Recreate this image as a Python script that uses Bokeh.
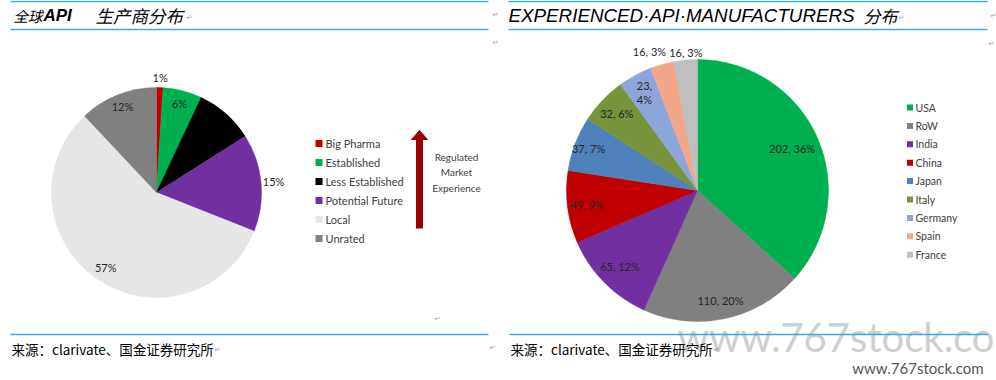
import math
from bokeh.plotting import figure
from bokeh.models import Range1d, ColumnDataSource
from bokeh.core.properties import value
from bokeh.embed import file_html
from bokeh.resources import INLINE

# ---------------- data ----------------
left_categories = ["Big Pharma", "Established", "Less Established", "Potential Future", "Local", "Unrated"]
left_values = [1, 6, 9, 15, 57, 12]
left_labels = ["1%", "6%", "", "15%", "57%", "12%"]

right_categories = ["USA", "RoW", "India", "China", "Japan", "Italy", "Germany", "Spain", "France"]
right_counts = [202, 110, 65, 49, 37, 32, 23, 16, 16]
right_pcts = [36, 20, 12, 9, 7, 6, 4, 3, 3]

left_title_parts = ["全球", "API", "生产商分布"]
right_title = "EXPERIENCED·API·MANUFACTURERS"
right_title_cn = "分布"
source_text = "来源：clarivate、国金证券研究所"
arrow_text = "Regulated\nMarket\nExperience"

# ---------------- styles ----------------
left_colors = ["#C00000", "#00B050", "#000000", "#7030A0", "#E6E6E6", "#808080"]
right_colors = ["#00B050", "#808080", "#7030A0", "#C00000", "#4F81BD", "#77933C", "#8EA5DB", "#F2A68A", "#BFBFBF"]
left_label_r = [1.1, 0.88, 0.0, 1.12, 0.86, 0.88]
left_label_dx = [0, 0, 0, 0, 0, 0]
right_label_r = [0.79, 0.86, 0.83, 0.85, 0.89, 0.85, 0.85, 1.1, 1.06]
right_label_dx = [0, 0, 0, 0, 0, 0, 0, -9, 1]

W, H = 996, 380
def Y(py):
    return H - py

p = figure(width=W, height=H, x_range=Range1d(0, W), y_range=Range1d(0, H),
           output_backend="svg", toolbar_location=None, min_border=0)
p.axis.visible = False
p.grid.visible = False
p.outline_line_color = None
p.background_fill_color = "white"

LBL_FONT = value("Lato")
CJK = value("Noto Sans CJK SC")
BLUE = "#3AAAE1"

# watermark (big, behind)
p.text(x=[994], y=[Y(336)], text=["www.767stock.co"], text_font=LBL_FONT,
       text_font_size="40px", text_color="#CFCFCF", text_align="right", text_baseline="middle")

# rules
p.segment(x0=[10, 10, 508, 508, 10, 509], y0=[Y(1), Y(29), Y(1), Y(29), Y(334), Y(334)],
          x1=[488, 488, 987, 987, 488, 987], y1=[Y(1), Y(29), Y(1), Y(29), Y(334), Y(334)],
          line_color=BLUE, line_width=1.5)

def pie(cx, cy, r, vals, colors, labels, lr, ldx, fsize):
    total = float(sum(vals))
    starts, ends, lx, ly = [], [], [], []
    cum = 0.0
    for v, f, d in zip(vals, lr, ldx):
        a0 = math.pi / 2 - 2 * math.pi * cum / total
        a1 = math.pi / 2 - 2 * math.pi * (cum + v) / total
        am = math.pi / 2 - 2 * math.pi * (cum + v / 2) / total
        starts.append(a0); ends.append(a1)
        lx.append(cx + f * r * math.cos(am) + d); ly.append(Y(cy) + f * r * math.sin(am))
        cum += v
    src = ColumnDataSource(dict(s=starts, e=ends, c=colors))
    p.wedge(x=cx, y=Y(cy), radius=r, start_angle="s", end_angle="e", direction="clock",
            fill_color="c", line_color="c", line_width=0.5, source=src)
    p.text(x=lx, y=ly, text=labels, text_font=LBL_FONT, text_font_size=fsize,
           text_color="#262626", text_align="center", text_baseline="middle", text_line_height=1.1)

pie(156, 192, 105, left_values, left_colors, left_labels, left_label_r, left_label_dx, "11px")
right_labels = [f"{c},\n{q}%" if cat == "Germany" else f"{c}, {q}%"
                for c, q, cat in zip(right_counts, right_pcts, right_categories)]
pie(697, 190, 131, right_counts, right_colors, right_labels, right_label_r, right_label_dx, "11px")

# left legend
ly = [Y(143 + 19 * i) for i in range(len(left_categories))]
p.scatter(x=[318.5] * len(ly), y=ly, marker="square", size=7, fill_color=left_colors, line_color=None)
p.text(x=[325] * len(ly), y=ly, text=left_categories, text_font=LBL_FONT, text_font_size="11px",
       text_color="#404040", text_align="left", text_baseline="middle")

# right legend
ry = [Y(107 + 18.4 * i) for i in range(len(right_categories))]
p.scatter(x=[909.5] * len(ry), y=ry, marker="square", size=6, fill_color=right_colors, line_color=None)
p.text(x=[915] * len(ry), y=ry, text=right_categories, text_font=LBL_FONT, text_font_size="10.5px",
       text_color="#404040", text_align="left", text_baseline="middle")

# arrow
AR = "#990000"
p.quad(left=[415.5], right=[422.5], bottom=[Y(228)], top=[Y(137)], fill_color=AR, line_color=None)
p.patch(x=[411, 427, 419], y=[Y(139), Y(139), Y(130)], fill_color=AR, line_color=AR)
p.text(x=[456], y=[Y(172)], text=[arrow_text], text_font=LBL_FONT, text_font_size="10px",
       text_color="#404040", text_align="center", text_baseline="middle", text_line_height=1.3)

# titles
p.text(x=[13], y=[Y(15)], text=[left_title_parts[0]], text_font=CJK, text_font_size="14.5px",
       text_font_style="italic", text_color="black", text_baseline="middle")
p.text(x=[43], y=[Y(15)], text=[left_title_parts[1]], text_font=value("Liberation Sans"), text_font_size="17px",
       text_font_style="bold italic", text_color="black", text_baseline="middle")
p.text(x=[95], y=[Y(15)], text=[left_title_parts[2]], text_font=CJK, text_font_size="17.5px",
       text_font_style="italic", text_color="black", text_baseline="middle")
p.text(x=[508], y=[Y(15)], text=[right_title], text_font=value("Liberation Sans"), text_font_size="18.8px",
       text_font_style="italic", text_color="black", text_baseline="middle")
p.text(x=[863], y=[Y(15)], text=[right_title_cn], text_font=CJK, text_font_size="17px",
       text_font_style="italic", text_color="black", text_baseline="middle")

# sources
p.text(x=[11, 510], y=[Y(348), Y(348)], text=[source_text, source_text], text_font=CJK,
       text_font_size="13.5px", text_color="black", text_baseline="middle")

# small watermark
p.text(x=[983], y=[Y(367)], text=["www.767stock.com"], text_font=LBL_FONT, text_font_size="15px",
       text_color="#555555", text_align="right", text_baseline="middle")

# paragraph marks
mx = [189, 495, 495, 901, 993, 991, 217, 492, 716, 437]
my = [17, 14, 42, 17, 15, 43, 349, 347, 349, 318]
p.text(x=mx, y=[Y(v) for v in my], text=["↵"] * len(mx), text_font=value("DejaVu Sans"),
       text_font_size="7px", text_color="#9A9A9A", text_align="center", text_baseline="middle")

open("out.html", "w").write(file_html(p, INLINE))
